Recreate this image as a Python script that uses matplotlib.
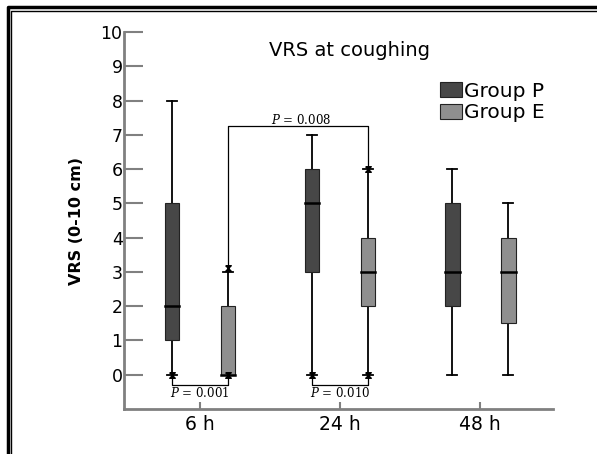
import matplotlib
matplotlib.use("Agg")
import matplotlib.pyplot as plt
from matplotlib.patches import Patch
from matplotlib.lines import Line2D

plt.rcParams['font.family'] = ['DejaVu Sans']
plt.rcParams['mathtext.fontset'] = 'dejavuserif'

times = ["6 h", "24 h", "48 h"]
groups = ["Group P", "Group E"]
colors = ["#474747", "#8f8f8f"]

# whisker low, q1, median, q3, whisker high
stats_p = [(0, 1, 2, 5, 8), (0, 3, 5, 6, 7), (0, 2, 3, 5, 6)]
stats_e = [(0, 0, 0, 2, 3), (0, 2, 3, 4, 6), (0, 1.5, 3, 4, 5)]

# ends marked with arrow-like markers (group index, time index, value)
marked = [(0, 0, 0), (1, 0, 0), (1, 0, 3.1), (0, 1, 0), (1, 1, 0), (1, 1, 6)]

# p-value brackets: (time i, group a, time j, group b, level, label)
brackets = [
    (0, 0, 0, 1, -0.29, "0.001"),
    (1, 0, 1, 1, -0.29, "0.010"),
    (0, 1, 1, 1, 7.26, "0.008"),
]

offsets = [-0.2, 0.2]
box_w = 0.105
cap_w = 0.07

fig = plt.figure(figsize=(5.97, 4.54), dpi=100)
ax = fig.add_axes([0.2077, 0.0991, 0.7186, 0.8304])

for g, stats in enumerate([stats_p, stats_e]):
    for i, (lo, q1, med, q3, hi) in enumerate(stats):
        x = i + offsets[g]
        ax.plot([x, x], [lo, q1], color="black", lw=1.3, zorder=2)
        ax.plot([x, x], [q3, hi], color="black", lw=1.3, zorder=2)
        for v in (lo, hi):
            ax.plot([x - cap_w / 2, x + cap_w / 2], [v, v], color="black", lw=1.3, zorder=2)
        ax.bar(x, q3 - q1, bottom=q1, width=box_w, color=colors[g],
               edgecolor="#222222", linewidth=0.8, zorder=3)
        ax.plot([x - box_w / 2, x + box_w / 2], [med, med], color="black", lw=1.8, zorder=4)

bowtie = [(-1, 1), (1, 1), (-1, -1), (1, -1), (-1, 1)]
for g, i, v in marked:
    ax.plot(i + offsets[g], v, marker=bowtie, ms=4, color="black", zorder=5)

for i, ga, j, gb, level, label in brackets:
    xa = i + offsets[ga]
    xb = j + offsets[gb]
    ya = stats_p[i] if ga == 0 else stats_e[i]
    yb = stats_p[j] if gb == 0 else stats_e[j]
    if level < 0:
        ya0, yb0 = ya[0], yb[0]
        ty = level - 0.23
    else:
        ya0, yb0 = ya[4], yb[4]
        ty = level + 0.17
    ax.plot([xa, xa, xb, xb], [ya0, level, level, yb0], color="black", lw=0.9, zorder=1)
    ax.text((xa + xb) / 2 + (0.02 if level > 0 else 0), ty, r"$P$ = " + label,
            family="DejaVu Serif", fontsize=8.5, ha="center", va="center")

ax.text(1.064, 9.47, "VRS at coughing", fontsize=14, ha="center", va="center")

handles = [Patch(facecolor=c, edgecolor="#222222", linewidth=0.8) for c in colors]
ax.legend(handles, groups, loc="upper left", bbox_to_anchor=(0.737, 0.868),
          frameon=False, fontsize=14.5, borderpad=0, borderaxespad=0,
          handlelength=1.1, handleheight=0.75, handletextpad=0.1, labelspacing=0.12)

ax.set_xlim(-0.543, 2.52)
ax.set_ylim(-1, 10)
ax.set_yticks(range(0, 11))
ax.set_xticks(range(len(times)))
ax.set_xticklabels(times)
ax.tick_params(axis="y", direction="in", length=14, width=1.5, color="#808080",
               labelsize=12.5, pad=1)
ax.tick_params(axis="x", direction="in", length=5, width=1.5, color="#808080",
               labelsize=13.5, pad=4)
for side in ("top", "right"):
    ax.spines[side].set_visible(False)
for side in ("left", "bottom"):
    ax.spines[side].set_color("#808080")
    ax.spines[side].set_linewidth(2)
ax.set_ylabel("VRS (0-10 cm)", fontsize=11.5, fontweight="bold")
ax.yaxis.set_label_coords(-0.093, 0.5)

# double border frame (only top and left visible in the original crop)
fig.add_artist(Line2D([7.5 / 597, 7.5 / 597, 1], [0, 1 - 6.5 / 454, 1 - 6.5 / 454],
                      transform=fig.transFigure, color="black", lw=2.5))
fig.add_artist(Line2D([11 / 597, 11 / 597, 1], [0, 1 - 10.5 / 454, 1 - 10.5 / 454],
                      transform=fig.transFigure, color="black", lw=1))

fig.savefig("out.png", dpi=100)
